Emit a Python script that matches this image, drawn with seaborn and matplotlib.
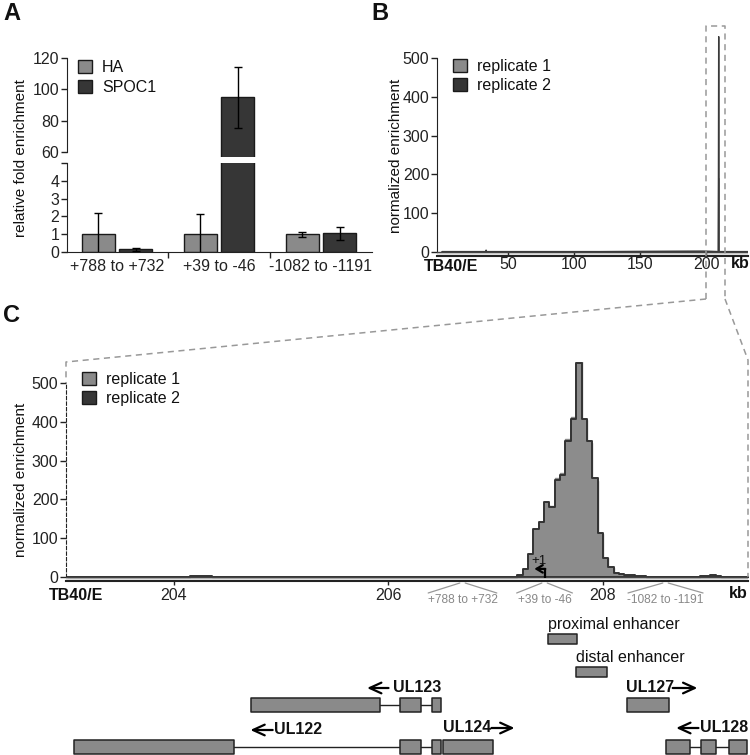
import numpy as np
import pandas as pd
import seaborn as sns
import matplotlib.pyplot as plt
from matplotlib.lines import Line2D
from matplotlib.patches import Patch

# ---- panel A: ChIP-qPCR at the MIE locus ----
regions = ["+788 to +732", "+39 to -46", "-1082 to -1191"]
ha_fold = [1.0, 1.0, 1.0]
ha_err = [1.2, 1.15, 0.14]
spoc1_fold = [0.15, 95.0, 1.04]
spoc1_err = [0.1, 19.5, 0.38]

# ---- panel B: genome-wide ChIP-seq profile (kb) ----
genome_kb = [0, 33.0, 33.4, 33.8, 120, 198, 209.3, 209.6, 209.9, 232]
rep1_genome = [1, 1, 5, 1, 1, 2, 1, 190, 1, 1]
rep2_genome = [1, 1, 4, 1, 1, 2, 1, 555, 1, 1]

# ---- panel C: 50 bp bins around the MIE region ----
peak_kb = np.round(np.arange(207.20, 208.39, 0.05), 2)
rep1_peak = [5, 18, 57, 122, 140, 185, 183, 255, 268, 356, 412, 558,
             405, 346, 248, 110, 48, 24, 9, 7, 5, 3, 2, 2]
rep2_peak = [6, 21, 60, 125, 142, 192, 181, 250, 262, 350, 407, 552,
             408, 350, 254, 113, 50, 25, 10, 8, 5, 4, 3, 2]
blip_kb = [204.15, 204.2, 204.25, 204.3, 206.5, 208.9, 208.95, 209.0, 209.05]
rep1_blip = [2, 3, 3, 2, 1, 3, 3, 4, 3]
rep2_blip = [2, 3, 3, 2, 1, 3, 3, 4, 3]

primer_kb = [206.69, 207.455, 208.583]
tss_kb = 207.455

# gene track (kb)
ul123_exons = [(204.715, 205.921), (206.107, 206.300), (206.409, 206.487)]
ul122_exons = [(203.068, 204.562), (206.107, 206.300), (206.409, 206.487)]
ul124_exons = [(206.511, 206.977)]
ul127_exons = [(208.221, 208.615)]
ul128_exons = [(208.587, 208.811), (208.914, 209.054), (209.175, 209.343)]
prox_enh = (207.484, 207.755)
dist_enh = (207.748, 208.034)

LIGHT = "#8a8a8a"
DARK = "#363636"
EDGE = "#1a1a1a"

sns.set_style("ticks")
plt.rcParams["font.family"] = ["Liberation Sans", "DejaVu Sans"]
plt.rcParams["axes.edgecolor"] = "#222222"
plt.rcParams["xtick.color"] = "#222222"
plt.rcParams["ytick.color"] = "#222222"
plt.rcParams["text.color"] = "#111111"
FS = 11.5

fig = plt.figure(figsize=(7.5, 7.55), dpi=100)


def box(l, t, r, b):
    return [l / 750, 1 - b / 755, (r - l) / 750, (b - t) / 755]


def fpt(x, y):
    return (x / 750, 1 - y / 755)


# ================= A =================
ax_hi = fig.add_axes(box(67, 58, 372, 157))
ax_lo = fig.add_axes(box(67, 163, 372, 252))
df = pd.DataFrame({
    "region": regions * 2,
    "antibody": ["HA"] * 3 + ["SPOC1"] * 3,
    "fold": ha_fold + spoc1_fold,
})
for ax in (ax_hi, ax_lo):
    sns.barplot(data=df, x="region", y="fold", hue="antibody",
                palette={"HA": LIGHT, "SPOC1": DARK}, saturation=1,
                width=0.736, gap=0.13, errorbar=None, edgecolor=EDGE,
                linewidth=1, legend=False, ax=ax)
    for cont, vals, errs in zip(ax.containers, [ha_fold, spoc1_fold], [ha_err, spoc1_err]):
        xs = [p.get_x() + p.get_width() / 2 for p in cont]
        ax.errorbar(xs, vals, yerr=errs, fmt="none", ecolor="black",
                    elinewidth=1, capsize=2.8, capthick=1, zorder=5)
    ax.set_xlim(-0.49, 2.5)
    ax.set_xlabel("")
    ax.set_ylabel("")
    for s in ("top", "right"):
        ax.spines[s].set_visible(False)
    ax.tick_params(axis="y", labelsize=FS, length=4, width=1, pad=1.5)

ax_hi.set_ylim(57, 120)
ax_hi.set_yticks([60, 80, 100, 120])
ax_hi.spines["left"].set_bounds(60, 120)
ax_hi.spines["bottom"].set_visible(False)
ax_hi.tick_params(axis="x", bottom=False, labelbottom=False)

ax_lo.set_ylim(0, 5)
ax_lo.set_yticks([0, 1, 2, 3, 4, 5])
ax_lo.set_yticklabels(["0", "1", "2", "3", "4", ""])
ax_lo.set_xticks([0, 1, 2])
ax_lo.set_xticklabels(regions)
ax_lo.set_xticks([0.5, 1.5], minor=True)
ax_lo.tick_params(axis="x", which="major", length=0, labelsize=FS, pad=5)
ax_lo.tick_params(axis="x", which="minor", length=4, width=1)

ax_hi.legend(handles=[Patch(fc=LIGHT, ec=EDGE, label="HA"),
                      Patch(fc=DARK, ec=EDGE, label="SPOC1")],
             loc="upper left", bbox_to_anchor=fpt(78, 60),
             bbox_transform=fig.transFigure, frameon=False, fontsize=FS,
             handlelength=0.9, handleheight=0.9, handletextpad=0.6,
             labelspacing=0.3, borderpad=0, borderaxespad=0)
fig.text(*fpt(21, 158), "relative fold enrichment", rotation=90,
         ha="center", va="center", fontsize=11)


def genome_axis(ax):
    ax.axhspan(-10, 0, color="#e6e6e6", lw=0, zorder=0)
    ax.axhline(0, color="#444444", lw=1, zorder=3)
    for s in ("top", "right"):
        ax.spines[s].set_visible(False)
    ax.spines["bottom"].set_linewidth(1.5)
    ax.spines["left"].set_bounds(0, 500)
    ax.set_yticks([0, 100, 200, 300, 400, 500])
    ax.tick_params(axis="y", labelsize=FS, length=4, width=1, pad=1.5)
    ax.set_xlabel("")
    ax.set_ylabel("")


# ================= B =================
ax_b = fig.add_axes(box(437, 34.7, 748, 255.9))
sns.lineplot(x=genome_kb, y=rep1_genome, color="#7a7a7a", lw=1,
             estimator=None, sort=False, ax=ax_b)
sns.lineplot(x=genome_kb, y=rep2_genome, color="#3a3a3a", lw=1,
             estimator=None, sort=False, ax=ax_b)
genome_axis(ax_b)
ax_b.set_xlim(-3.8, 231.8)
ax_b.set_ylim(-10, 560)
ax_b.set_xticks([50, 100, 150, 200])
ax_b.tick_params(axis="x", labelsize=FS, length=3, width=1, pad=1,
                 direction="in")
ax_b.legend(handles=[Patch(fc=LIGHT, ec=EDGE, label="replicate 1"),
                     Patch(fc=DARK, ec=EDGE, label="replicate 2")],
            loc="upper left", bbox_to_anchor=fpt(453, 59),
            bbox_transform=fig.transFigure, frameon=False, fontsize=FS,
            handlelength=0.9, handleheight=0.9, handletextpad=0.6,
            labelspacing=0.25, borderpad=0, borderaxespad=0)
fig.text(*fpt(396, 156), "normalized enrichment", rotation=90,
         ha="center", va="center", fontsize=11)
fig.text(*fpt(451, 266.5), "TB40/E", ha="center", va="center",
         fontsize=FS, fontweight="bold")
fig.text(*fpt(740, 264), "kb", ha="center", va="center",
         fontsize=FS, fontweight="bold")

# ================= C =================
ax_c = fig.add_axes(box(66, 362, 748, 580.9))
c_edges = [round(203.0 + 0.05 * k, 3) for k in range(128)]
c_df = pd.DataFrame({
    "kb": np.concatenate([blip_kb[:5], peak_kb, blip_kb[5:]]) + 0.025,
    "rep1": rep1_blip[:5] + rep1_peak + rep1_blip[5:],
    "rep2": rep2_blip[:5] + rep2_peak + rep2_blip[5:],
})
sns.histplot(data=c_df, x="kb", weights="rep1", bins=c_edges, element="step",
             fill=True, facecolor="#a3a3a3", edgecolor="#8a8a8a",
             linewidth=1.0, ax=ax_c)
sns.histplot(data=c_df, x="kb", weights="rep2", bins=c_edges, element="step",
             fill=True, facecolor="#8c8c8c", edgecolor="#333333",
             linewidth=1.4, ax=ax_c)
genome_axis(ax_c)
ax_c.spines["left"].set_linestyle((0, (3, 2)))
ax_c.set_xlim(202.993, 209.352)
ax_c.set_ylim(-10, 554)
ax_c.set_xticks([204, 206, 208])
ax_c.tick_params(axis="x", labelsize=FS, length=3, width=1, pad=2)
ax_c.legend(handles=[Patch(fc=LIGHT, ec=EDGE, label="replicate 1"),
                     Patch(fc=DARK, ec=EDGE, label="replicate 2")],
            loc="upper left", bbox_to_anchor=fpt(82, 372),
            bbox_transform=fig.transFigure, frameon=False, fontsize=FS,
            handlelength=0.9, handleheight=0.9, handletextpad=0.6,
            labelspacing=0.25, borderpad=0, borderaxespad=0)
fig.text(*fpt(21, 480), "normalized enrichment", rotation=90,
         ha="center", va="center", fontsize=11)
fig.text(*fpt(76, 596), "TB40/E", ha="center", va="center",
         fontsize=FS, fontweight="bold")
fig.text(*fpt(738, 594), "kb", ha="center", va="center",
         fontsize=FS, fontweight="bold")

# transcription start site
ax_c.plot([tss_kb, tss_kb], [-2, 21], color="black", lw=1.6, zorder=6,
          solid_capstyle="butt")
ax_c.annotate("", xy=(tss_kb - 0.095, 21), xytext=(tss_kb + 0.007, 21),
              arrowprops=dict(arrowstyle="->,head_length=0.5,head_width=0.3",
                              lw=1.6, color="black", mutation_scale=9,
                              shrinkA=0, shrinkB=0), zorder=6)
ax_c.text(tss_kb - 0.05, 42, "+1", ha="center", va="center", fontsize=9.5)

# ================= gene track =================
ax_g = fig.add_axes(box(66, 580, 748, 755))
ax_g.set_xlim(202.993, 209.352)
ax_g.set_ylim(755, 580)
ax_g.axis("off")

for kb, lab, hw in zip(primer_kb, ["+788 to +732", "+39 to -46", "-1082 to -1191"],
                       [0.32, 0.26, 0.35]):
    ax_g.plot([kb - hw, kb - 0.025], [593, 583], color="#999999", lw=0.9)
    ax_g.plot([kb + 0.025, kb + hw], [583, 593], color="#999999", lw=0.9)
    ax_g.text(kb, 600, lab, ha="center", va="center", fontsize=8.6, color="#888888")


def exon_row(exons, top, h=14):
    mid = top + h / 2
    for (a0, a1), (b0, b1) in zip(exons[:-1], exons[1:]):
        ax_g.plot([a1, b0], [mid, mid], color="#222222", lw=1, zorder=1)
    ax_g.broken_barh([(s, e - s) for s, e in exons], (top, h),
                     facecolors=LIGHT, edgecolors="#222222", linewidth=1.1, zorder=2)


exon_row([prox_enh], 634, 10)
exon_row([dist_enh], 667, 10)
exon_row(ul123_exons, 698)
exon_row(ul127_exons, 698)
exon_row(ul122_exons, 740)
exon_row(ul124_exons, 740)
exon_row(ul128_exons, 740)

ax_g.text(prox_enh[0], 625, "proximal enhancer", ha="left", va="center", fontsize=FS)
ax_g.text(dist_enh[0], 658, "distal enhancer", ha="left", va="center", fontsize=FS)

arrow_kw = dict(arrowstyle="->,head_length=0.7,head_width=0.32", lw=1.6,
                color="black", mutation_scale=12, shrinkA=0, shrinkB=0)
gene_labels = [
    ("UL123", 206.042, 688, 206.000, 205.800),
    ("UL122", 204.932, 730, 204.920, 204.712),
    ("UL127", 208.214, 688, 208.650, 208.880),
    ("UL124", 206.508, 728, 206.960, 207.175),
    ("UL128", 208.905, 728, 208.890, 208.682),
]
for name, tx, ty, a_from, a_to in gene_labels:
    ax_g.text(tx, ty, name, ha="left", va="center", fontsize=FS, fontweight="bold")
    ax_g.annotate("", xy=(a_to, ty), xytext=(a_from, ty), arrowprops=arrow_kw)

# ================= zoom connectors =================
dash = dict(color="#999999", lw=1.1, linestyle=(0, (4, 3)), transform=fig.transFigure)
for path in ([(706, 299), (706, 26), (725, 26), (725, 299)],
             [(706, 299), (66, 362), (66, 383)],
             [(725, 299), (748, 360), (748, 577)]):
    xs, ys = zip(*[fpt(x, y) for x, y in path])
    fig.add_artist(Line2D(xs, ys, **dash))

for lab, x, y in (("A", 12, 14), ("B", 380, 14), ("C", 12, 316)):
    fig.text(*fpt(x, y), lab, ha="center", va="center", fontsize=17, fontweight="bold")

fig.savefig("out.png", dpi=100)
